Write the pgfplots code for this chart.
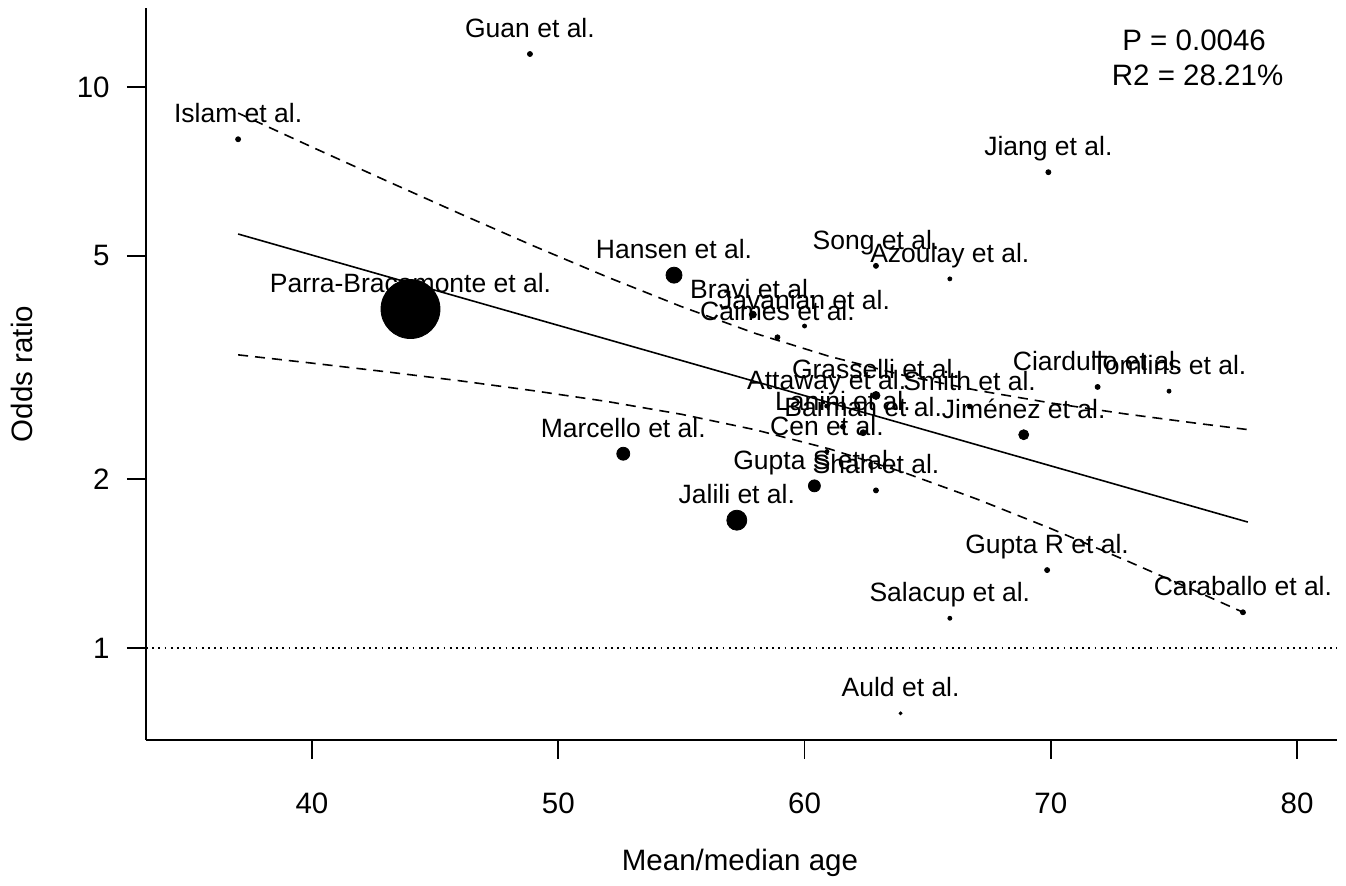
\documentclass[border=0pt]{standalone}
\usepackage{pgfplots}
\pgfplotsset{compat=1.18}
\usepackage{pgfplotstable}
\usepackage{fontspec}
\setmainfont{Liberation Sans}

% study, mean/median age, odds ratio, bubble diameter (px at 2 px/pt)
\pgfplotstableread[col sep=comma]{
study,age,or,d
Guan et al.,48.85,11.45,5
Islam et al.,37.0,8.07,5
Jiang et al.,69.9,7.05,5
Song et al.,62.9,4.80,5
Azoulay et al.,65.9,4.55,4
Hansen et al.,54.7,4.62,16
Parra-Bracamonte et al.,44.0,4.02,59
Bravi et al.,57.9,3.93,7
Javanian et al.,60.0,3.75,4
Caimes et al.,58.9,3.58,5
Ciardullo et al.,71.9,2.92,5
Tomlins et al.,74.8,2.87,4
Grasselli et al.,62.9,2.82,8
Attaway et al.,60.9,2.70,4
Smith et al.,66.7,2.69,4
Lanini et al.,61.56,2.48,5
Barman et al.,62.38,2.42,6
Cen et al.,60.91,2.24,4
Jiménez et al.,68.9,2.40,10
Marcello et al.,52.64,2.22,13
Gupta S et al.,60.4,1.946,12
Shah et al.,62.9,1.91,5
Jalili et al.,57.25,1.69,20
Gupta R et al.,69.85,1.377,5
Salacup et al.,65.9,1.13,4
Caraballo et al.,77.8,1.158,5
Auld et al.,63.9,0.765,3
}\studies

\begin{document}
\begin{tikzpicture}[font=\fontsize{14.75}{17}\selectfont]
\useasboundingbox (0,0) rectangle (673pt,442.5pt);
\begin{axis}[
  at={(73pt,72.5pt)}, anchor=south west,
  scale only axis, width=595.5pt, height=366pt,
  xmin=33.26, xmax=81.62,
  ymode=log, ymin=0.6856, ymax=13.83,
  axis x line*=bottom, axis y line*=left,
  axis line style={line width=0.9pt, black},
  tick align=outside, major tick length=9.5pt,
  tick style={line width=0.9pt, black},
  xtick={40,50,60,70,80}, xticklabels={40,50,60,70,80},
  ytick={1,2,5,10}, yticklabels={1,2,5,10},
  yminorticks=false, xminorticks=false,
  /pgf/number format/assume math mode=true,
  xticklabel style={anchor=base, inner sep=0pt, yshift=-27.25pt},
  yticklabel style={anchor=east, inner sep=0pt, xshift=-8.5pt},
  clip=false,
]
% reference line at OR = 1
\addplot[black, line width=0.8pt, dash pattern=on 0.9pt off 2.2pt]
  coordinates {(33.26,1) (81.62,1)};
% fitted meta-regression line
\addplot[black, line width=0.8pt] coordinates {(37,5.47) (78,1.677)};
% 95% confidence band
\addplot[black, line width=0.8pt, dash pattern=on 5pt off 3.5pt] coordinates {
 (37,8.985) (40,7.816) (43,6.812) (46,5.948) (49,5.208) (52,4.583) (55,4.061)
 (58,3.638) (61,3.311) (64,3.064) (67,2.880) (70,2.734) (73,2.615) (76,2.513) (78,2.451)};
\addplot[black, line width=0.8pt, dash pattern=on 5pt off 3.5pt] coordinates {
 (37,3.331) (40,3.220) (43,3.108) (46,2.995) (49,2.875) (52,2.750) (55,2.610)
 (58,2.449) (61,2.265) (64,2.058) (67,1.843) (70,1.633) (73,1.436) (76,1.257) (78,1.148)};
% study labels
\addplot[draw=none, nodes near coords, point meta=explicit symbolic,
  nodes near coords style={anchor=base, inner sep=0pt, yshift=8.25pt,
    font=\fontsize{13.25}{15}\selectfont}]
  table[x=age, y=or, meta=study] {\studies};
% studies, sized by weight
\addplot[scatter, only marks, mark=*,
  point meta=\thisrow{d},
  visualization depends on={\thisrow{d}/4 \as \msize},
  scatter/use mapped color={draw=none, fill=black},
  scatter/@pre marker code/.append style={/tikz/mark size=\msize pt}]
  table[x=age, y=or] {\studies};
\node[anchor=base] at (axis cs:75.82,11.64) {P = 0.0046};
\node[anchor=base] at (axis cs:75.96,10.07) {R2 = 28.21\%};
\end{axis}
\node[rotate=90] at (11pt,255.5pt) {Odds ratio};
\node at (370pt,11pt) {Mean/median age};
\end{tikzpicture}
\end{document}
